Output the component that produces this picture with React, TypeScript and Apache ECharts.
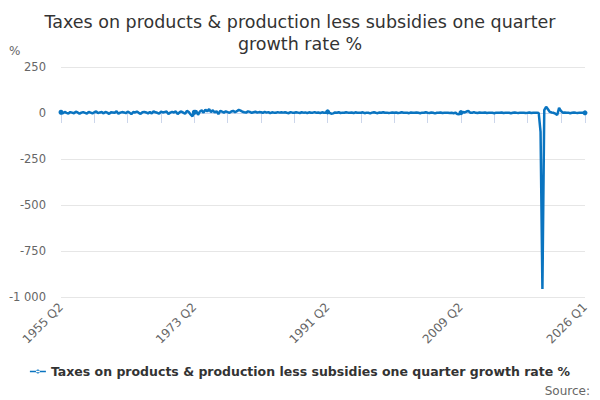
import React, { useEffect, useRef } from 'react';
import * as echarts from 'echarts';

const seriesName = 'Taxes on products & production less subsidies one quarter growth rate %';

// quarters from 1955 Q2 to 2026 Q1
const quarters: string[] = [];
for (let y = 1955; y <= 2026; y++) {
  for (let q = 1; q <= 4; q++) {
    if (y === 1955 && q < 2) continue;
    if (y === 2026 && q > 1) continue;
    quarters.push(y + ' Q' + q);
  }
}

const growth: number[] = [
  4, -2, 6, 1, -3, 5, 2, -1, 7, 3, -4, 2,
  5, 1, -3, 6, 2, -2, 4, 8, -1, 3, 5, -2,
  6, 2, -5, 4, 3, 1, 9, -4, 2, 5, 3, -1,
  7, 2, -6, 5, 3, 8, 1, -5, 4, 6, 3, -2,
  5, -3, 9, 4, 1, -4, 7, 3, 5, 8, -5, 2,
  6, 3, 9, -6, 4, 8, 2, -4, 12, 5, -8, -18,
  4, 12, -10, 8, 14, 2, 18, 9, 21, 5, 15, 3,
  10, -6, 12, 7, 2, 9, 5, 1, 8, 12, 4, 10,
  17, 13, 7, 4, 2, 9, 6, 1, 4, 7, 2, 5,
  4, 1, 6, 2, 5, -1, 4, 2, 1, 5, 2, 4,
  2, 4, 1, -1, 5, 2, 1, 4, 2, 0, 4, 2,
  3, -1, 4, 1, 2, 5, 1, 3, -1, 4, 1, 2,
  6, 1, -4, -2, 3, 1, 4, 0, 2, 1, 4, 2,
  1, 3, -1, 4, 1, 2, 1, 4, -1, 2, 1, -2,
  2, 4, 1, -1, 3, 1, 4, 1, 2, 0, 1, 3,
  1, 3, 0, 1, 4, 1, 2, 1, -1, 3, 1, 1,
  3, 1, -1, 2, 1, 4, 1, 0, 3, 1, -2, 1,
  1, 3, 0, 1, 2, 1, 0, 1, -1, 2, -5, -7,
  2, 5, 3, 8, 11, 2, 1, 5, 1, 0, 3, 1,
  1, 3, 0, 1, 2, 1, -1, 2, 1, 1, 3, 0,
  1, 2, 1, -1, 1, 3, 1, 0, 2, 1, 1, 0,
  1, 3, 0, 1, 1, 2, 0,
  -103, -956, 16, 34, 20, 6, 3, 1, -4, -11, 28, 12, 2,
  3, 1, 2, -1, 1, 3, 1, 0, 2, 1, 2, 1,
];

const yTicks = [-1000, -750, -500, -250, 0, 250];

const fmt = (v: number) => {
  const s = String(Math.abs(v)).replace(/\B(?=(\d{3})+(?!\d))/g, ' ');
  return (v < 0 ? '-' : '') + s;
};

const App = () => {
  const chartRef = useRef<HTMLDivElement>(null);

  useEffect(() => {
    document.body.style.margin = '0';
    if (!chartRef.current) return;
    const chart = echarts.init(chartRef.current, null, { renderer: 'svg' });
    const last = quarters.length - 1;
    const font = 'DejaVu Sans';

    chart.setOption({
      animation: false,
      textStyle: { fontFamily: font },
      title: {
        text: 'Taxes on products & production less subsidies one quarter\ngrowth rate %',
        left: 'center',
        top: 6,
        textStyle: { fontSize: 17.5, fontWeight: 'normal', color: '#333', lineHeight: 22, fontFamily: font },
      },
      grid: { left: 61, right: 15, top: 67, bottom: 103 },
      legend: {
        bottom: 17,
        left: 'center',
        itemWidth: 16,
        itemHeight: 8,
        itemGap: 6,
        textStyle: { fontSize: 12.5, fontWeight: 'bold', color: '#333', fontFamily: font },
        data: [{ name: seriesName, icon: 'path://M0,3.3H16V4.7H0Z M8,2a2,2 0 1,0 0.01,0Z' }],
      },
      xAxis: {
        type: 'category',
        data: quarters,
        boundaryGap: false,
        axisLine: { lineStyle: { color: '#ccd6eb' } },
        axisTick: {
          length: 10,
          lineStyle: { color: '#ccd6eb' },
          interval: (i: number) => i % 18 === 0 || i === last,
        },
        axisLabel: {
          rotate: 45,
          color: '#666',
          fontSize: 12,
          margin: 8,
          interval: (i: number) => i % 72 === 0 || i === last,
        },
        splitLine: { show: false },
      },
      yAxis: {
        type: 'value',
        min: yTicks[0],
        max: yTicks[yTicks.length - 1],
        interval: 250,
        axisLine: { show: false },
        axisTick: { show: false },
        axisLabel: { color: '#666', fontSize: 11.5, margin: 15, formatter: fmt },
        splitLine: { lineStyle: { color: '#e6e6e6' } },
      },
      graphic: [
        { type: 'text', left: 9, top: 45, style: { text: '%', fontSize: 12, fill: '#666', fontFamily: font } },
        { type: 'text', right: 10, top: 385, style: { text: 'Source:', fontSize: 12, fill: '#666', fontFamily: font } },
      ],
      series: [
        {
          name: seriesName,
          type: 'line',
          data: growth,
          color: '#0a74c0',
          symbol: 'circle',
          symbolSize: 5,
          showSymbol: true,
          lineStyle: { width: 2.5 },
        },
      ],
    });

    return () => chart.dispose();
  }, []);

  return <div ref={chartRef} style={{ width: 600, height: 400 }}></div>;
};

export default App;
